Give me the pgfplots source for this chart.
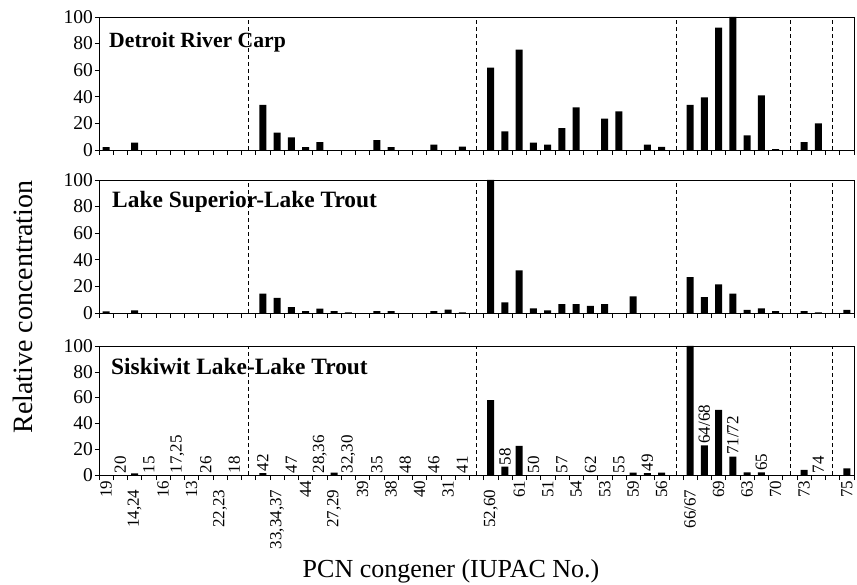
\documentclass[border=0pt]{standalone}
\usepackage{fontspec}
\setmainfont{Liberation Serif}
\usepackage{pgfplots}
\pgfplotsset{compat=1.18}
\tikzset{ttl/.style={anchor=north west, inner sep=0pt, font=\bfseries\fontsize{23.4}{24}\selectfont}}
\newcommand{\lsp}{\hspace*{9pt}}
\begin{document}
\begin{tikzpicture}[x=1pt,y=1pt]
\useasboundingbox (0,0) rectangle (857,584);
\pgfplotsset{
  panel/.style={
    scale only axis, width=755pt, anchor=south west,
    xmin=-0.5, xmax=52.5, ymin=0, ymax=100,
    enlargelimits=false,
    ytick={0,20,...,100},
    tick align=outside, xtick pos=bottom, ytick pos=left,
    major tick length=4pt, minor tick length=5pt,
    xtick={0,2,4,6,8,12,14,16,18,20,22,24,27,29,31,33,35,37,39,41,43,45,47,49,52},
    major x tick style={draw=none},
    minor xtick={-0.5,0.5,...,52.5},
    axis line style={line width=0.8pt},
    every tick/.style={black, line width=0.6pt},
    /pgf/number format/assume math mode=true,
    yticklabel style={font=\fontsize{19.5}{20}\selectfont, inner sep=2pt},
    clip=false,
  },
  bars/.style={ybar, bar width=7pt, fill=black, draw=none},
  sep/.style={black, line width=0.7pt, dash pattern=on 4pt off 3pt},
}
% ---------- Panel 1 ----------
\begin{axis}[panel, at={(99pt,434pt)}, height=133pt, xticklabel=\empty]
\addplot[bars] coordinates {
 (0,2.2) (2,5.5) (11,34) (12,13) (13,9.5) (14,2.2) (15,6) (19,7.5) (20,2.2) (23,4) (25,2.5)
 (27,62) (28,14) (29,75.5) (30,5.5) (31,4) (32,16.5) (33,32) (35,23.5) (36,29) (38,4) (39,2.3)
 (41,34) (42,39.5) (43,92) (44,100) (45,11) (46,41) (47,0.6) (49,6) (50,20)
};
\pgfplotsinvokeforeach{10,26,40,48,51}{\addplot[sep] coordinates {(#1,0) (#1,100)};}
\node[ttl, font=\bfseries\fontsize{21.7}{22}\selectfont] at (rel axis cs:0,1) [xshift=10pt, yshift=-15pt] {Detroit River Carp};
\end{axis}
% ---------- Panel 2 ----------
\begin{axis}[panel, at={(99pt,271pt)}, height=133pt, xticklabel=\empty]
\addplot[bars] coordinates {
 (0,1.2) (2,2) (11,14.6) (12,11.3) (13,4.5) (14,1.5) (15,3.3) (16,1.5) (17,0.5) (19,1.5) (20,1.5)
 (23,1.5) (24,2.5) (25,0.5)
 (27,100) (28,8) (29,32) (30,3.5) (31,2) (32,6.6) (33,6.6) (34,5.3) (35,6.6) (37,12.5)
 (41,27) (42,12) (43,21.5) (44,14.6) (45,2.3) (46,3.5) (47,1.5) (49,1.5) (50,0.5) (52,2.3)
};
\pgfplotsinvokeforeach{10,26,40,48,51}{\addplot[sep] coordinates {(#1,0) (#1,100)};}
\node[ttl] at (rel axis cs:0,1) [xshift=13pt, yshift=-11pt] {Lake Superior-Lake Trout};
\end{axis}
% ---------- Panel 3 ----------
\begin{axis}[panel, at={(99pt,109pt)}, height=129pt,
  xticklabels={19,{14,24\lsp},16,13,{22,23\lsp},{33,34,37\lsp},44,{27,29\lsp},39,38,40,31,{52,60\lsp},61,51,54,53,59,56,66/67\lsp,69,63,70,73,75},
  xticklabel style={rotate=90, anchor=east, font=\fontsize{17}{17}\selectfont, inner sep=1.5pt},
]
\addplot[bars] coordinates {
 (2,1.3) (11,1.5) (16,1.8) (27,58) (28,6.4) (29,22.5) (37,1.8) (38,1.5) (39,1.8)
 (41,100) (42,23) (43,50.5) (44,14.2) (45,2) (46,2) (49,3.9) (52,5.2)
};
\pgfplotsinvokeforeach{10,26,40,48,51}{\addplot[sep] coordinates {(#1,0) (#1,100)};}
\addplot[draw=none, mark=none, nodes near coords, point meta=explicit symbolic,
  every node near coord/.style={rotate=90, anchor=west, inner sep=1.5pt, font=\fontsize{17}{17}\selectfont}]
 coordinates {
 (1,0) [20] (3,0) [15] (5,0) [{17,25}] (7,0) [26] (9,0) [18]
 (11,1.5) [42] (13,0) [47] (15,0) [{28,36}] (17,0) [{32,30}] (19,0) [35] (21,0) [48] (23,0) [46] (25,0) [41]
 (28,6.4) [58] (30,0) [50] (32,0) [57] (34,0) [62] (36,0) [55] (38,1.5) [49]
 (42,23) [64/68] (44,14.2) [71/72] (46,2) [65] (50,0) [74]
};
\node[ttl] at (rel axis cs:0,1) [xshift=12pt, yshift=-12pt] {Siskiwit Lake-Lake Trout};
\end{axis}
\node[rotate=90, font=\fontsize{28}{28}\selectfont] at (23,277) {Relative concentration};
\node[anchor=base, font=\fontsize{26}{27}\selectfont] at (451,7) {PCN congener (IUPAC No.)};
\end{tikzpicture}
\end{document}
